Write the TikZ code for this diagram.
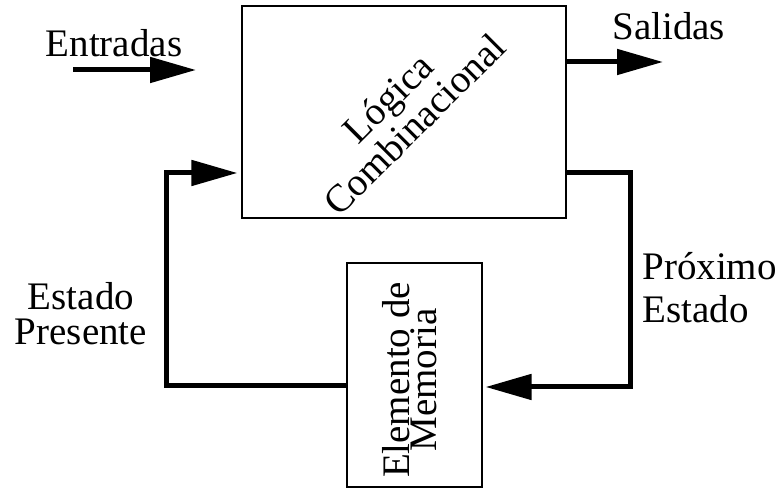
\documentclass[tikz,border=0pt]{standalone}
\usepackage{fontspec}
\setmainfont{Liberation Serif}
\usetikzlibrary{arrows.meta}
\usetikzlibrary{positioning}
\tikzset{flecha/.style = {line width = 2.5pt, -{Triangle[length=23pt, width=12.5pt]}}}
\tikzset{caja/.style = {draw, line width = 0.6pt, inner sep = 0}}
\tikzset{texto/.style = {font = \fontsize{19.5}{21.5}\selectfont, inner sep = 0}}

\begin{document}
\begin{tikzpicture}[x=0.5pt, y=0.5pt]
    \useasboundingbox (0,0) rectangle (784,491);
    \node [caja, minimum width = 162pt, minimum height = 106pt] (logica) at (404, 379) {};
    \node [caja, minimum width = 67.5pt, minimum height = 112pt] (memoria) at (414.5, 116) {};
    \node [texto, align=center, rotate=45, font=\fontsize{19.5}{15}\selectfont] (comb) at (401, 380) {Lógica\\Combinacional};
    \node [texto, align=center, rotate=90, font=\fontsize{19.5}{13.5}\selectfont] (elem) at (410, 111) {Elemento de\\Memoria};
    \coordinate (ent0) at (73, 421);
    \coordinate (ent1) at (196, 421);
    \draw [flecha] (ent0) -- (ent1);
    \node [texto, anchor=base] (entradas) at (114, 434) {Entradas};
    \coordinate (sal) at (663, 429);
    \draw [flecha] (logica.east |- sal) -- (sal);
    \node [texto, anchor=base west] (salidas) at (612, 451) {Salidas};
    \coordinate (prox0) at (630, 318);
    \coordinate (prox1) at (630, 104);
    \draw [flecha] (logica.east |- prox0) -- (prox0) -- (prox1) -- ([xshift=1.5pt]memoria.east |- prox1);
    \coordinate (pres0) at (166, 105);
    \coordinate (pres1) at (166, 318);
    \draw [flecha] (memoria.west |- pres0) -- (pres0) -- (pres1) -- ([xshift=-2pt]logica.west |- pres1);
    \node [texto, align=center, font=\fontsize{19.5}{17.5}\selectfont] (presente) at (81, 177) {Estado\\Presente};
    \node [texto, align=left, anchor=west] (proximo) at (642, 203) {Próximo\\Estado};
\end{tikzpicture}
\end{document}
